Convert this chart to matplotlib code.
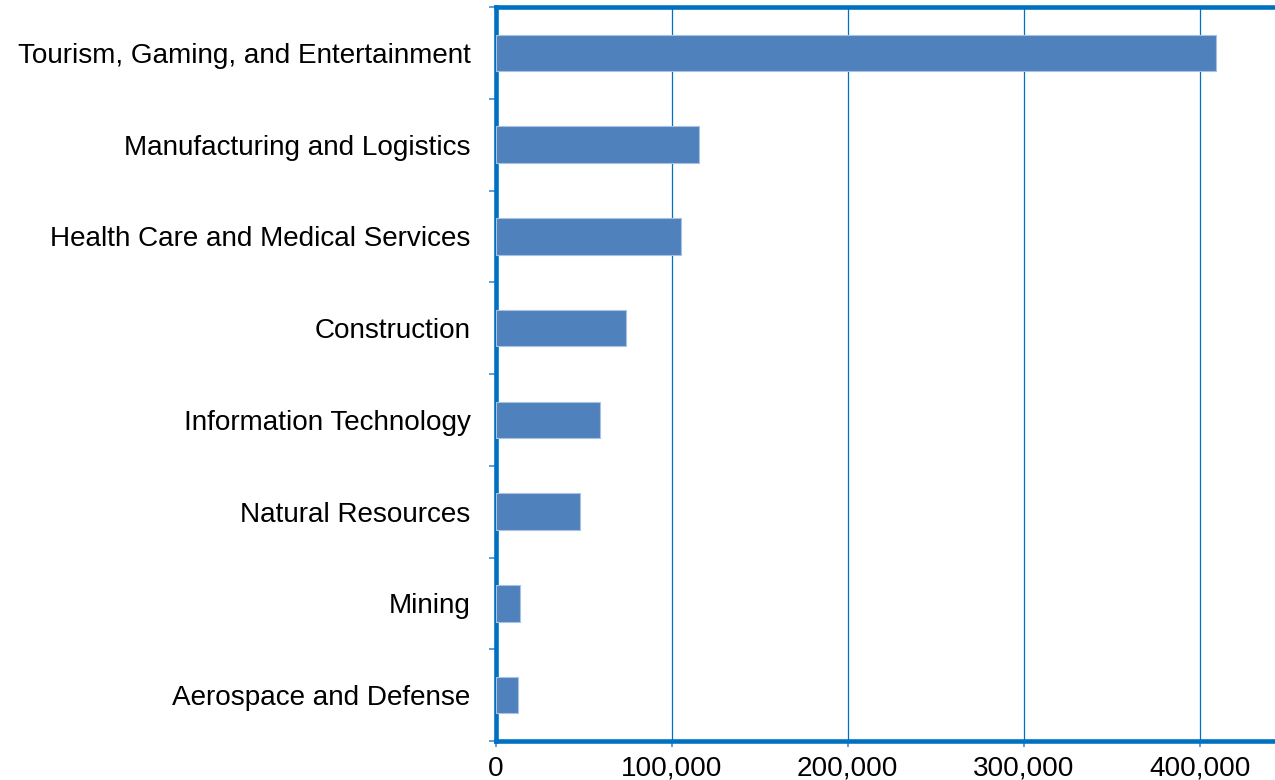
import matplotlib.pyplot as plt
import numpy as np
from matplotlib.ticker import FuncFormatter

plt.rcParams['font.family'] = ['Liberation Sans', 'DejaVu Sans']

sectors = [
    "Tourism, Gaming, and Entertainment",
    "Manufacturing and Logistics",
    "Health Care and Medical Services",
    "Construction",
    "Information Technology",
    "Natural Resources",
    "Mining",
    "Aerospace and Defense",
]
jobs = [409000, 115700, 105500, 74300, 59200, 47800, 13900, 12900]

axis_blue = "#0070C0"
bar_blue = "#4F81BD"

fig = plt.figure(figsize=(12.75, 7.8), dpi=100)
ax = fig.add_axes([495.5 / 1275, 1 - 741 / 780, 1 - 495.5 / 1275, (741 - 7) / 780])

y = np.arange(len(sectors))[::-1]
ax.barh(y, jobs, height=0.4, color=bar_blue, edgecolor="#A9C1E2", linewidth=0.8, zorder=3)

ax.set_ylim(-0.5, len(sectors) - 0.5)
ax.set_xlim(0, 442600)
ax.set_xticks([0, 100000, 200000, 300000, 400000])
ax.xaxis.set_major_formatter(FuncFormatter(lambda v, _: f"{int(v):,}"))
ax.set_yticks(y)
ax.set_yticklabels(sectors)
ax.set_yticks(np.arange(len(sectors) + 1) - 0.5, minor=True)

ax.grid(axis="x", color=axis_blue, linewidth=0.9, zorder=0)
ax.tick_params(axis="y", which="major", length=0, pad=18, labelsize=20.1)
ax.tick_params(axis="y", which="minor", length=5, width=1.2, color="#3F8FD8")
ax.tick_params(axis="x", which="major", length=4.5, width=1.2, color="#3F8FD8",
               pad=6, labelsize=20.1)

for side in ("left", "top", "bottom"):
    ax.spines[side].set_color(axis_blue)
    ax.spines[side].set_linewidth(3.3)
ax.spines["right"].set_visible(False)

fig.savefig("out.png", dpi=100)
